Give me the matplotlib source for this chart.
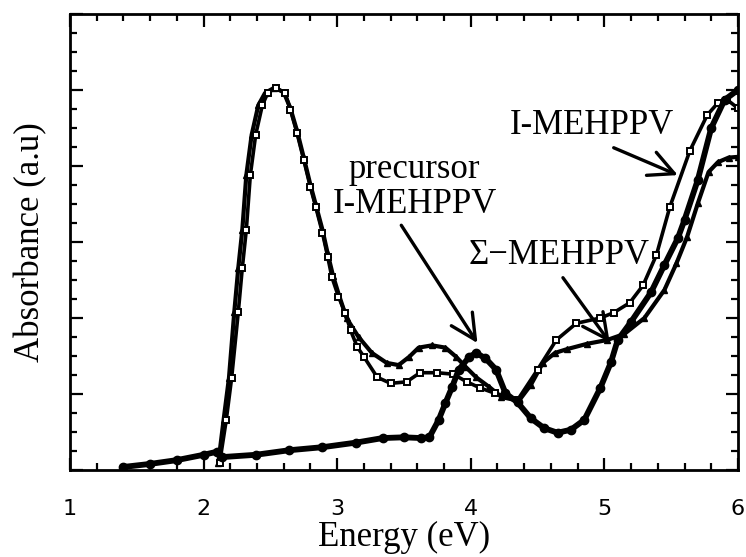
import matplotlib
matplotlib.use("Agg")
import matplotlib.pyplot as plt
from matplotlib.ticker import MultipleLocator, NullFormatter

# precursor I-MEHPPV (thick line, round markers)
pre_e = [1.40, 1.60, 1.80, 2.00, 2.10, 2.14, 2.39, 2.64, 2.89, 3.14, 3.34, 3.50,
         3.63, 3.69, 3.76, 3.81, 3.86, 3.91, 3.99, 4.04, 4.11, 4.19, 4.26, 4.35,
         4.45, 4.55, 4.65, 4.75, 4.85, 4.97, 5.05, 5.10, 5.20, 5.35, 5.45, 5.55,
         5.60, 5.70, 5.80, 5.90, 6.00]
pre_a = [0.04, 0.08, 0.13, 0.20, 0.24, 0.17, 0.20, 0.26, 0.30, 0.36, 0.42, 0.43,
         0.42, 0.43, 0.66, 0.88, 1.09, 1.32, 1.49, 1.54, 1.47, 1.32, 1.01, 0.89,
         0.68, 0.55, 0.49, 0.53, 0.66, 1.08, 1.42, 1.71, 1.95, 2.34, 2.70, 3.05,
         3.29, 3.82, 4.50, 4.87, 5.00]

# I-MEHPPV (square markers)
imeh_e = [2.12, 2.17, 2.21, 2.26, 2.29, 2.32, 2.35, 2.39, 2.44, 2.48, 2.54, 2.61,
          2.65, 2.70, 2.75, 2.80, 2.84, 2.89, 2.93, 2.96, 3.01, 3.06, 3.10, 3.15,
          3.20, 3.30, 3.40, 3.52, 3.62, 3.75, 3.87, 3.97, 4.07, 4.18, 4.35, 4.50,
          4.64, 4.79, 4.97, 5.07, 5.19, 5.29, 5.39, 5.49, 5.64, 5.77, 5.85, 5.92,
          6.00]
imeh_a = [0.09, 0.66, 1.21, 2.08, 2.66, 3.16, 3.88, 4.41, 4.80, 4.96, 5.03, 4.96,
          4.74, 4.43, 4.08, 3.72, 3.46, 3.12, 2.80, 2.54, 2.28, 2.07, 1.84, 1.62,
          1.49, 1.22, 1.14, 1.16, 1.28, 1.28, 1.26, 1.16, 1.08, 1.01, 0.92, 1.32,
          1.71, 1.93, 2.00, 2.07, 2.20, 2.43, 2.83, 3.46, 4.20, 4.67, 4.83, 4.87,
          4.76]

# Sigma-MEHPPV (triangle markers)
sig_e = [2.11, 2.15, 2.19, 2.23, 2.26, 2.29, 2.32, 2.36, 2.41, 2.46, 2.53, 2.60,
         2.65, 2.70, 2.75, 2.80, 2.84, 2.89, 2.93, 2.97, 3.01, 3.07, 3.16, 3.26,
         3.37, 3.46, 3.54, 3.61, 3.71, 3.81, 3.89, 3.96, 4.04, 4.14, 4.23, 4.36,
         4.45, 4.54, 4.63, 4.72, 4.87, 5.02, 5.15, 5.30, 5.45, 5.54, 5.62, 5.70,
         5.78, 5.85, 5.93, 6.00]
sig_a = [0.09, 0.66, 1.21, 2.08, 2.66, 3.16, 3.88, 4.41, 4.80, 4.96, 5.03, 4.97,
         4.76, 4.46, 4.11, 3.75, 3.49, 3.16, 2.84, 2.55, 2.32, 2.00, 1.75, 1.54,
         1.41, 1.38, 1.49, 1.61, 1.64, 1.61, 1.49, 1.36, 1.22, 1.09, 0.96, 0.91,
         1.12, 1.41, 1.54, 1.59, 1.66, 1.71, 1.79, 2.00, 2.37, 2.72, 3.07, 3.51,
         3.92, 4.05, 4.11, 4.12]

serif = ["Liberation Serif", "DejaVu Serif"]

fig = plt.figure(figsize=(7.46, 5.57), dpi=100)
ax = fig.add_axes([0.0938, 0.1562, 0.8954, 0.8187])

ax.plot(sig_e, sig_a, color="black", lw=3.0, marker="^", ms=4)
ax.plot(imeh_e, imeh_a, color="black", lw=2.6, marker="s", ms=4,
        mfc="white", mec="black", mew=1.4)
ax.plot(pre_e, pre_a, color="black", lw=4.2, marker="o", ms=6)

ax.set_xlim(1, 6)
ax.set_ylim(0, 6)
ax.xaxis.set_major_locator(MultipleLocator(1))
ax.xaxis.set_minor_locator(MultipleLocator(0.2))
ax.yaxis.set_major_locator(MultipleLocator(1))
ax.yaxis.set_minor_locator(MultipleLocator(0.25))
ax.yaxis.set_major_formatter(NullFormatter())
ax.tick_params(which="both", direction="in", top=True, right=True, width=1.6)
ax.tick_params(which="major", length=9)
ax.tick_params(which="minor", length=5)
ax.tick_params(axis="x", which="major", pad=21, labelsize=16)
for s in ax.spines.values():
    s.set_linewidth(2)

ax.set_xlabel("Energy (eV)", family=serif, fontsize=25, labelpad=1)
ax.set_ylabel("Absorbance (a.u)", family=serif, fontsize=25, labelpad=13)

arrow = dict(arrowstyle="->,head_length=0.9,head_width=0.45", lw=2.4,
             color="black", mutation_scale=20, shrinkA=0, shrinkB=0)

ax.text(3.58, 3.95, "precursor", family=serif, fontsize=25,
        ha="center", va="center")
ax.annotate("", xy=(4.05, 1.67), xytext=(3.48, 3.22), arrowprops=arrow)
ax.text(3.58, 3.49, "I-MEHPPV", family=serif, fontsize=25,
        ha="center", va="center")

ax.text(4.66, 2.82, "\u03a3\u2212MEHPPV", family=serif, fontsize=25,
        ha="center", va="center")
ax.annotate("", xy=(5.04, 1.68), xytext=(4.69, 2.53), arrowprops=arrow)

ax.text(4.91, 4.53, "I-MEHPPV", family=serif, fontsize=25,
        ha="center", va="center")
ax.annotate("", xy=(5.55, 3.88), xytext=(5.07, 4.24), arrowprops=arrow)

fig.savefig("out.png", dpi=100)
